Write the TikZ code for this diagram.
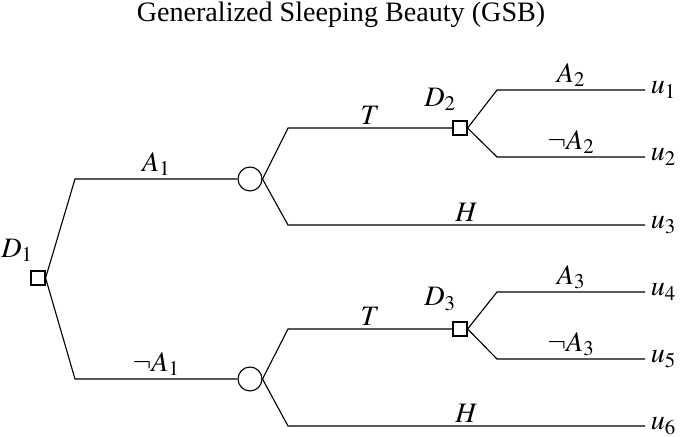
\documentclass[tikz,border=0pt]{standalone}
\usepackage{mathptmx}
\usepackage{fontspec}
\setmainfont{Liberation Serif}
\usetikzlibrary{positioning}
\tikzset{
  gsbdecision/.style={
    draw,
    rectangle,
    fill=white,
    minimum size=10pt,
    inner sep=0pt,
    line width=0.8pt
  },
  gsbchance/.style={
    draw,
    circle,
    fill=white,
    minimum size=17pt,
    inner sep=0pt,
    line width=0.8pt
  },
  gsbedge/.style={draw,line width=0.8pt},
  gsbtext/.style={font=\fontsize{20}{24}\selectfont},
  gsbleaf/.style={gsbtext,anchor=west,inner sep=4pt}
}

\begin{document}
\begin{tikzpicture}[x=0.025cm,y=-0.025cm,
  every node/.append style={gsbtext},
  lab/.style={above,inner sep=2pt}
]
  \useasboundingbox (0,0) rectangle (685,436);
  \node (title) at (341,15) {Generalized Sleeping Beauty (GSB)};

  % decision and chance nodes
  \node[gsbdecision] (d1) at (38,278) {};
  \node (d1lab) at (17,250) {$D_1$};
  \node[gsbchance] (c1) at (250,179) {};
  \node[gsbchance] (c2) at (250,379) {};
  \node[gsbdecision] (d2) at (460,128) {};
  \node (d2lab) at (440,99) {$D_2$};
  \node[gsbdecision] (d3) at (460,329) {};
  \node (d3lab) at (440,299) {$D_3$};

  % outcomes
  \node[gsbleaf] (u1) at (645,90) {$u_1$};
  \node[gsbleaf] (u2) at (645,157) {$u_2$};
  \node[gsbleaf] (u3) at (645,225) {$u_3$};
  \node[gsbleaf] (u4) at (645,292) {$u_4$};
  \node[gsbleaf] (u5) at (645,359) {$u_5$};
  \node[gsbleaf] (u6) at (645,426) {$u_6$};

  % corners
  \coordinate (k1) at (75,179);
  \coordinate (k2) at (75,379);
  \coordinate (k3) at (288,128);
  \coordinate (k4) at (288,225);
  \coordinate (k5) at (288,329);
  \coordinate (k6) at (288,426);
  \coordinate (k7) at (497,90);
  \coordinate (k8) at (497,157);
  \coordinate (k9) at (497,292);
  \coordinate (k10) at (497,359);

  \draw[gsbedge] (d1.east) -- (k1) -- node[lab] (la1) {$A_1$} (c1.west);
  \draw[gsbedge] (d1.east) -- (k2) -- node[lab] (lna1) {$\neg A_1$} (c2.west);
  \draw[gsbedge] (c1.east) -- (k3) -- node[lab] (lt1) {$T$} (d2.west);
  \draw[gsbedge] (c1.east) -- (k4) -- node[lab] (lh1) {$H$} (u3.west);
  \draw[gsbedge] (c2.east) -- (k5) -- node[lab] (lt2) {$T$} (d3.west);
  \draw[gsbedge] (c2.east) -- (k6) -- node[lab] (lh2) {$H$} (u6.west);
  \draw[gsbedge] (d2.east) -- (k7) -- node[lab] (la2) {$A_2$} (u1.west);
  \draw[gsbedge] (d2.east) -- (k8) -- node[lab] (lna2) {$\neg A_2$} (u2.west);
  \draw[gsbedge] (d3.east) -- (k9) -- node[lab] (la3) {$A_3$} (u4.west);
  \draw[gsbedge] (d3.east) -- (k10) -- node[lab] (lna3) {$\neg A_3$} (u5.west);
\end{tikzpicture}
\end{document}
